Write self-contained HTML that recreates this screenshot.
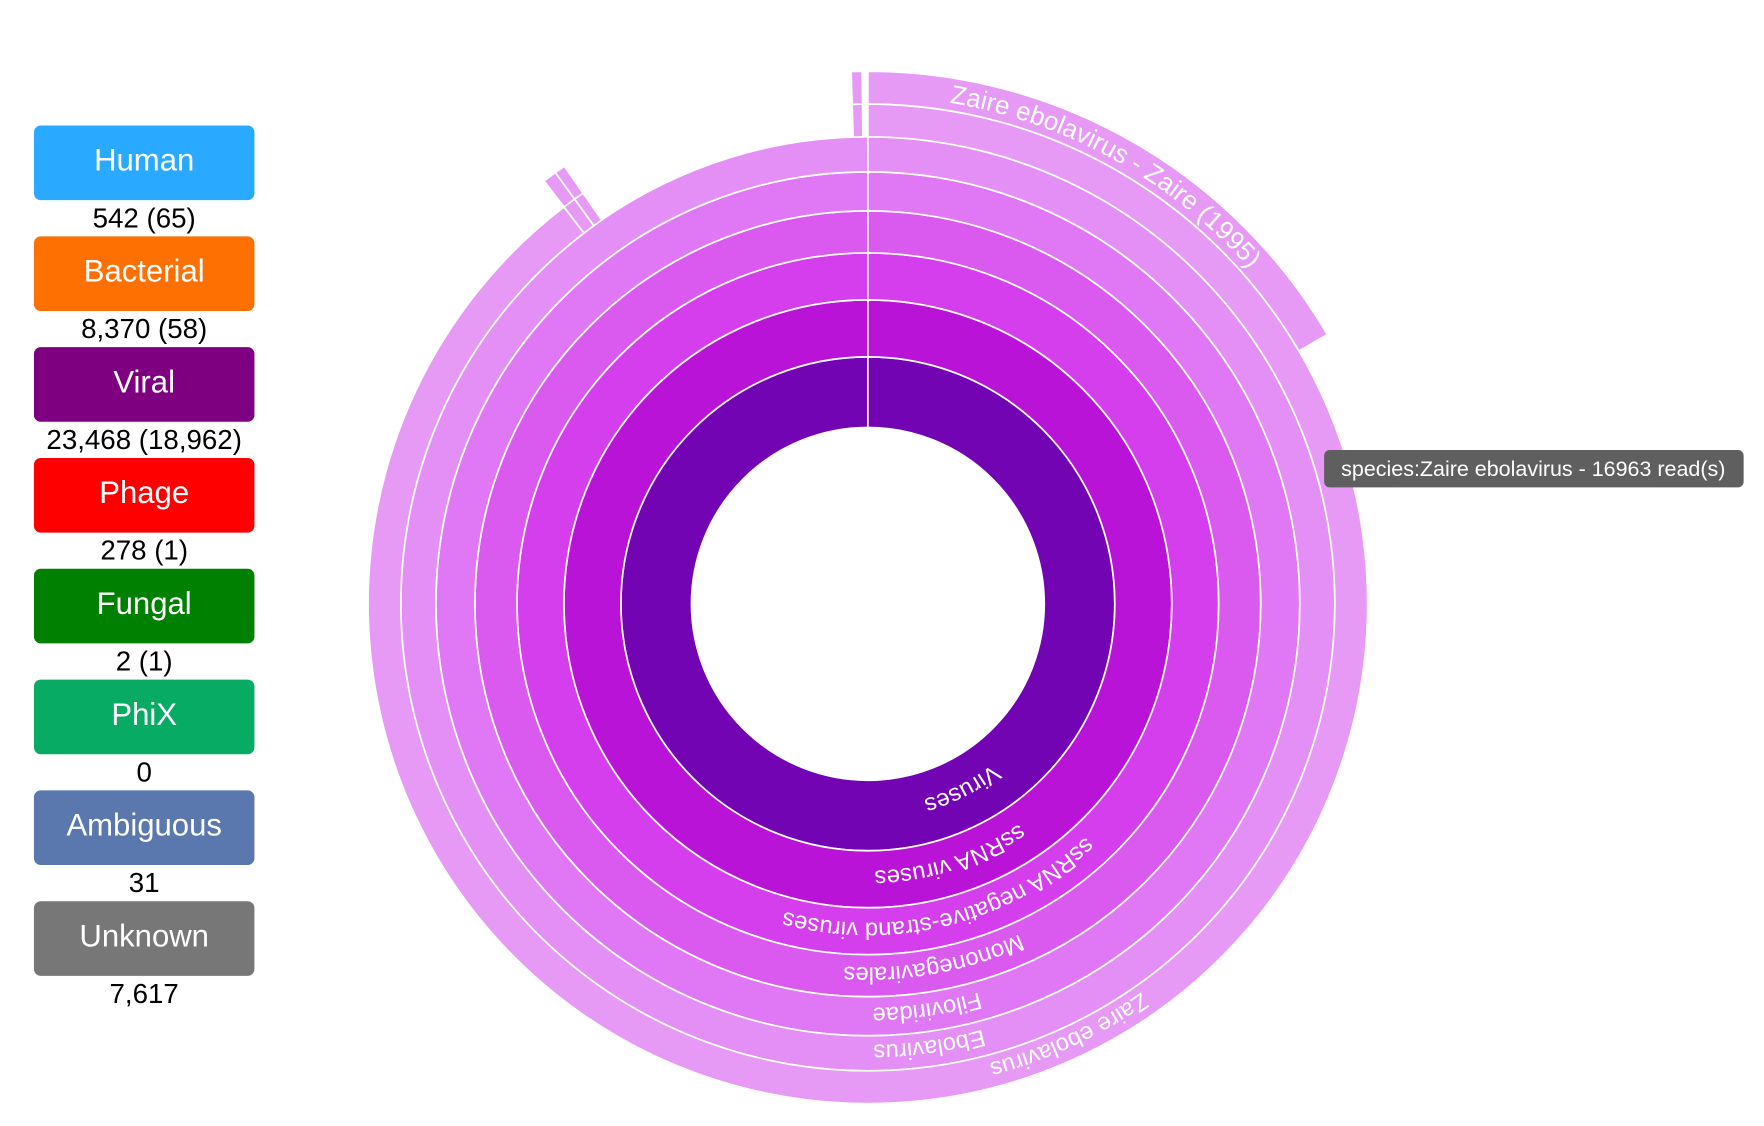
<!DOCTYPE html>
<html><head><meta charset="utf-8"><style>
html,body{margin:0;padding:0;background:#fff;}
svg{display:block;font-family:"Liberation Sans",Arial,sans-serif;}
</style></head><body>
<svg id="chart" width="1764" height="1126" viewBox="0 0 1560 995.8" xmlns="http://www.w3.org/2000/svg">
<g id="legend"></g>
<g id="sun"></g>
<g id="labels"></g>
<g>
<rect x="1171" y="398" width="371" height="33" rx="5" fill="#5f5f5f"/>
<text x="1356" y="421" text-anchor="middle" font-size="19" fill="#fff">species:Zaire ebolavirus - 16963 read(s)</text>
</g>
</svg>
<script>
// Legend data
const legendNames = ["Human","Bacterial","Viral","Phage","Fungal","PhiX","Ambiguous","Unknown"];
const legendCounts = ["542 (65)","8,370 (58)","23,468 (18,962)","278 (1)","2 (1)","0","31","7,617"];
const legendColors = ["#29a9ff","#ff7002","#7e0080","#ff0000","#008000","#07ab63","#5a78ae","#777777"];

// Sunburst data (node lists)
const nodeNames = ["Viruses","ssRNA viruses","ssRNA negative-strand viruses","Mononegavirales","Filoviridae","Ebolavirus","Zaire ebolavirus","Zaire ebolavirus - Zaire (1995)","Ebolavirus sp. B","strain B","Ebolavirus sp. C","strain C","(unassigned)","Ebolavirus sp. D","strain D"];
const nodeParents = [-1,0,1,2,3,4,5,6,5,8,5,10,5,5,13];
const nodeValues = [100000,100000,100000,100000,100000,100000,89600,16560,420,420,330,330,9150,330,330];
const nodeHidden = [0,0,0,0,0,0,0,0,0,0,0,0,1,0,0];
const labelAngles = [153,162,166,169.5,171.6,172,155,29];

const NS="http://www.w3.org/2000/svg";
const cx=767.5, cy=534;
const radii=[156,218.4,268.8,310.3,347.5,382,413,442,471];
const ringColors=["#7304b3","#b913d7","#d43eec","#da5af0","#e077f4","#e48ff5","#e699f5","#e699f5"];
const totalValue=nodeValues[0];
function ang(v){return v/totalValue*2*Math.PI;}
function pt(r,a){return [cx+r*Math.sin(a), cy-r*Math.cos(a)];}
function arcPath(r0,r1,a0,a1){
  if(a1-a0>=2*Math.PI-1e-6){
    return `M${cx},${cy-r1}A${r1},${r1} 0 1 1 ${cx},${cy+r1}A${r1},${r1} 0 1 1 ${cx},${cy-r1}Z M${cx},${cy-r0}A${r0},${r0} 0 1 0 ${cx},${cy+r0}A${r0},${r0} 0 1 0 ${cx},${cy-r0}Z`;
  }
  const large=(a1-a0)>Math.PI?1:0;
  const p0=pt(r1,a0),p1=pt(r1,a1),p2=pt(r0,a1),p3=pt(r0,a0);
  return `M${p0}A${r1},${r1} 0 ${large} 1 ${p1}L${p2}A${r0},${r0} 0 ${large} 0 ${p3}Z`;
}
const depth=[],start=[],cursor=[];
for(let i=0;i<nodeNames.length;i++){
  const p=nodeParents[i];
  if(p<0){depth[i]=0;start[i]=0;}
  else{depth[i]=depth[p]+1;start[i]=cursor[p];cursor[p]+=nodeValues[i];}
  cursor[i]=start[i];
}
const sun=document.getElementById('sun');
for(let i=0;i<nodeNames.length;i++){
  if(nodeHidden[i])continue;
  const d=depth[i];
  const a0=ang(start[i]),a1=ang(start[i]+nodeValues[i]);
  const path=document.createElementNS(NS,'path');
  path.setAttribute('d',arcPath(radii[d],radii[d+1],a0,a1));
  path.setAttribute('fill',ringColors[d]);
  path.setAttribute('fill-rule','evenodd');
  path.setAttribute('stroke','#fff');
  path.setAttribute('stroke-width','1.5');
  
  
  sun.appendChild(path);
}
const ln=document.createElementNS(NS,'line');
ln.setAttribute('x1',cx);ln.setAttribute('y1',cy-radii[0]);ln.setAttribute('x2',cx);ln.setAttribute('y2',cy-radii[6]);
ln.setAttribute('stroke','#fff');ln.setAttribute('stroke-width','1.5');


sun.appendChild(ln);

const labels=document.getElementById('labels');
const defs=document.createElementNS(NS,'defs');labels.appendChild(defs);
for(let i=0;i<labelAngles.length;i++){
  const d=depth[i];
  const fs=(i===7)?23:21;
  const r=(radii[d]+radii[d+1])/2-7.5;
  const id='lp'+i;
  const p=document.createElementNS(NS,'path');
  p.setAttribute('id',id);
  p.setAttribute('d',`M${cx},${cy-r}A${r},${r} 0 1 1 ${cx},${cy+r}A${r},${r} 0 1 1 ${cx},${cy-r}`);
  defs.appendChild(p);
  const t=document.createElementNS(NS,'text');
  t.setAttribute('font-size',fs);
  t.setAttribute('fill','#fff');
  
  
  const tp=document.createElementNS(NS,'textPath');
  tp.setAttribute('href','#'+id);
  tp.setAttribute('startOffset',(labelAngles[i]/360*2*Math.PI*r).toFixed(1));
  tp.setAttribute('text-anchor','middle');
  tp.textContent=nodeNames[i];
  t.appendChild(tp);
  labels.appendChild(t);
}

const lg=document.getElementById('legend');
for(let i=0;i<legendNames.length;i++){
  const y=111+i*98;
  const g=document.createElementNS(NS,'g');
  
  
  const rc=document.createElementNS(NS,'rect');
  rc.setAttribute('x',30);rc.setAttribute('y',y);rc.setAttribute('width',195);rc.setAttribute('height',66);
  rc.setAttribute('rx',6);rc.setAttribute('fill',legendColors[i]);
  
  
  g.appendChild(rc);
  const t=document.createElementNS(NS,'text');
  t.setAttribute('x',127.5);t.setAttribute('y',y+40);t.setAttribute('text-anchor','middle');
  t.setAttribute('font-size','27.5');t.setAttribute('fill','#fff');
  
  
  t.textContent=legendNames[i];g.appendChild(t);
  const c=document.createElementNS(NS,'text');
  c.setAttribute('x',127.5);c.setAttribute('y',y+90);c.setAttribute('text-anchor','middle');
  c.setAttribute('font-size','24.5');c.setAttribute('fill','#000');
  
  
  c.textContent=legendCounts[i];g.appendChild(c);
  lg.appendChild(g);
}
</script>
</body></html>
